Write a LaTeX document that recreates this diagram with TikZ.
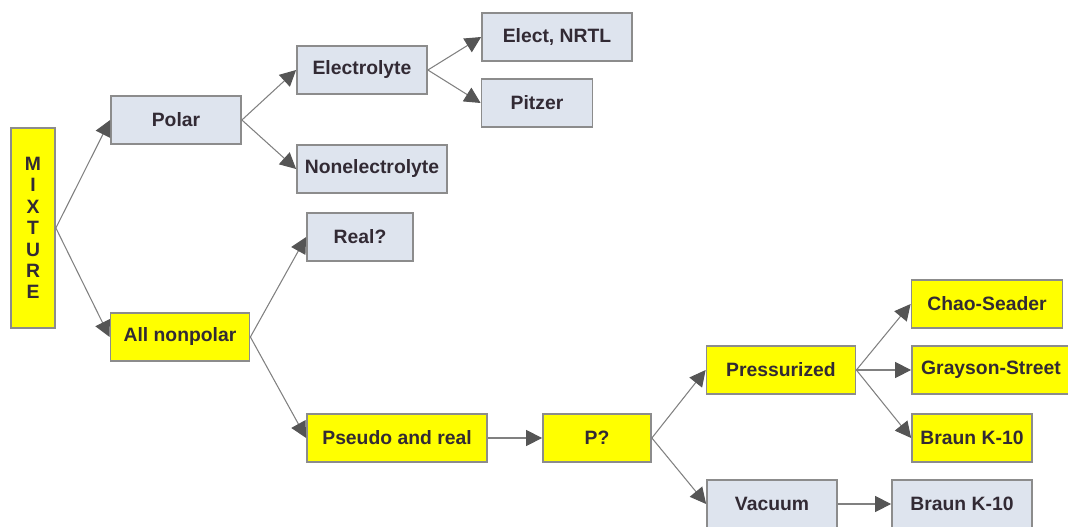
\documentclass[tikz,border=0pt]{standalone}
\usepackage{fontspec}
\setmainfont{Liberation Sans}
\usepackage{tikz}
\usetikzlibrary{arrows.meta,positioning}
\definecolor{lemon}{RGB}{255,255,0}
\definecolor{pale}{RGB}{222,228,238}
\definecolor{edge}{RGB}{140,140,140}
\definecolor{wire}{RGB}{128,128,128}
\definecolor{tip}{RGB}{85,85,85}
\definecolor{ink}{RGB}{50,42,52}
\newcommand{\comma}{,}

\begin{document}
\begin{tikzpicture}[x=0.02cm,y=-0.02cm,
    box/.style={draw=edge,line width=1pt,text=ink,inner sep=0pt,
      font=\fontsize{11}{12.2}\selectfont\bfseries,minimum height=0.95cm},
    arr/.style={draw=wire,line width=0.6pt,
      -{Triangle[length=3.2mm,width=3.2mm,color=tip]}}]
    \useasboundingbox (0,0) rectangle (1068,527);
    \node[box,fill=lemon,align=center,minimum width=0.88cm,minimum height=4cm] (mix) at (33,228)
      {M\\I\\X\\T\\U\\R\\E};
    \foreach \n/\x/\y/\w/\c/\t in {
      polar/176/120/130/pale/Polar,
      allnp/180/337/139/lemon/All nonpolar,
      electro/362/70/130/pale/Electrolyte,
      nonel/372/169/150/pale/Nonelectrolyte,
      nrtl/557/37/150/pale/Elect\comma{} NRTL,
      pitzer/537/103/111/pale/Pitzer,
      real/360/237/106/pale/Real?,
      pseudo/397/438/180/lemon/Pseudo and real,
      pq/597/438/108/lemon/P?,
      press/781/370/149/lemon/Pressurized,
      vac/772/504/130/pale/Vacuum,
      braunv/962/504/140/pale/Braun K-10,
      chao/987/304/151/lemon/Chao-Seader,
      grayson/991/370/158/lemon/Grayson-Street,
      braunp/972/438/120/lemon/Braun K-10}
    {
      \pgfmathsetmacro{\bw}{\w*0.02}
      \node[box,fill=\c,minimum width=\bw cm] (\n) at (\x,\y) {\t};
    }
    \foreach \a/\b in {mix/polar,mix/allnp,polar/electro,polar/nonel,electro/nrtl,
      electro/pitzer,allnp/real,allnp/pseudo,pseudo/pq,pq/press,pq/vac,vac/braunv,
      press/chao,press/grayson,press/braunp}
      \draw[arr] (\a.east) -- (\b.west);
  \end{tikzpicture}
\end{document}
